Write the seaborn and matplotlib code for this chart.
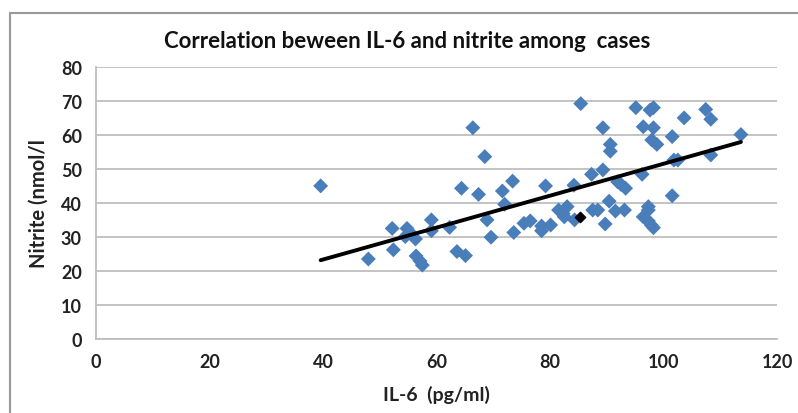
import matplotlib
matplotlib.use("Agg")
import matplotlib.pyplot as plt
import seaborn as sns
import numpy as np
import pandas as pd
from matplotlib.patches import Rectangle

il6 = [39.6, 48.0, 52.2, 52.4, 54.8, 54.5, 56.3, 55.5, 56.4, 57.1, 57.5, 59.1, 59.1,
       62.3, 63.6, 65.1, 64.4, 66.4, 67.4, 68.5, 68.9, 69.6, 71.6, 72.0, 73.4, 73.6,
       75.4, 76.5, 78.5, 78.5, 79.2, 80.1, 81.5, 82.3, 83.0, 82.5, 84.2, 84.3, 85.4,
       87.3, 87.5, 88.4, 89.3, 89.3, 89.7, 90.4, 90.6, 90.6, 91.5, 91.9, 92.5, 93.3,
       93.1, 95.1, 96.2, 96.4, 96.4, 97.3, 97.6, 98.2, 98.2, 97.3, 97.9, 98.8, 97.8,
       98.2, 97.3, 101.5, 101.8, 102.5, 101.5, 103.6, 107.4, 108.3, 108.3, 113.6]
nitrite = [45.0, 23.5, 32.5, 26.2, 32.5, 30.1, 29.4, 31.0, 24.4, 22.9, 21.7, 35.0, 31.8,
           32.8, 25.7, 24.5, 44.3, 62.1, 42.5, 53.6, 35.0, 29.9, 43.5, 39.6, 46.4, 31.3,
           34.0, 34.7, 33.2, 31.8, 45.0, 33.5, 37.9, 36.9, 38.9, 35.9, 45.2, 35.0, 69.2,
           48.4, 37.9, 37.9, 62.1, 49.7, 33.8, 40.5, 57.2, 55.2, 37.6, 46.2, 45.4, 44.3,
           37.9, 68.0, 48.4, 62.4, 35.9, 34.7, 67.3, 68.0, 62.1, 38.9, 58.5, 57.2, 33.5,
           32.7, 37.9, 59.5, 52.6, 52.6, 42.1, 65.0, 67.5, 64.6, 54.1, 60.1]
hl_il6 = [85.2]
hl_nitrite = [35.9]

title = "Correlation beween IL-6 and nitrite among  cases"
xlabel = "IL-6  (pg/ml)"
ylabel = "Nitrite (nmol/l"
xticks = [0, 20, 40, 60, 80, 100, 120]
yticks = [0, 10, 20, 30, 40, 50, 60, 70, 80]

df = pd.DataFrame({"il6": il6, "nitrite": nitrite})

sns.set_style("white")
plt.rcParams["font.family"] = ["Lato", "DejaVu Sans"]

fig = plt.figure(figsize=(7.98, 4.14), dpi=100)
ax = fig.add_axes([0.120, 0.179, 0.854, 0.657])

sns.regplot(data=df, x="il6", y="nitrite", ax=ax, ci=None, marker="D",
            scatter_kws=dict(s=58, color="#4A7EBB", edgecolors="none", zorder=3, alpha=1),
            line_kws=dict(color="black", lw=2.8, zorder=4))
ax.scatter(hl_il6, hl_nitrite, marker="D", s=28, color="black", zorder=5)

ax.set_xlim(0, 120)
ax.set_ylim(0, 80)
ax.set_xticks(xticks)
ax.set_yticks(yticks)
ax.yaxis.grid(True, color="#BEBEBE", lw=1.3)
ax.xaxis.grid(False)
for s in ["top", "right"]:
    ax.spines[s].set_visible(False)
for s in ["left", "bottom"]:
    ax.spines[s].set_color("#BEBEBE")
    ax.spines[s].set_linewidth(1.3)
ax.tick_params(axis="both", which="both", direction="out", length=5, width=1.2,
               color="#BEBEBE", labelsize=13, labelcolor="#222222", pad=5)
for lab in ax.get_xticklabels() + ax.get_yticklabels():
    lab.set_fontweight("bold")
ax.set_xlabel(xlabel, fontsize=14, fontweight="bold", color="#222222", labelpad=11)
ax.set_ylabel(ylabel, fontsize=14.5, fontweight="bold", color="#222222", labelpad=9)
fig.text(0.51, 0.90, title, ha="center", va="center", fontsize=16,
         fontweight="bold", color="#111111")

fig.patches.append(Rectangle((0.013, -0.05), 1.05, 1.017, transform=fig.transFigure,
                             fill=False, edgecolor="#9A9A9A", lw=1.5))

fig.savefig("out.png", dpi=100)
